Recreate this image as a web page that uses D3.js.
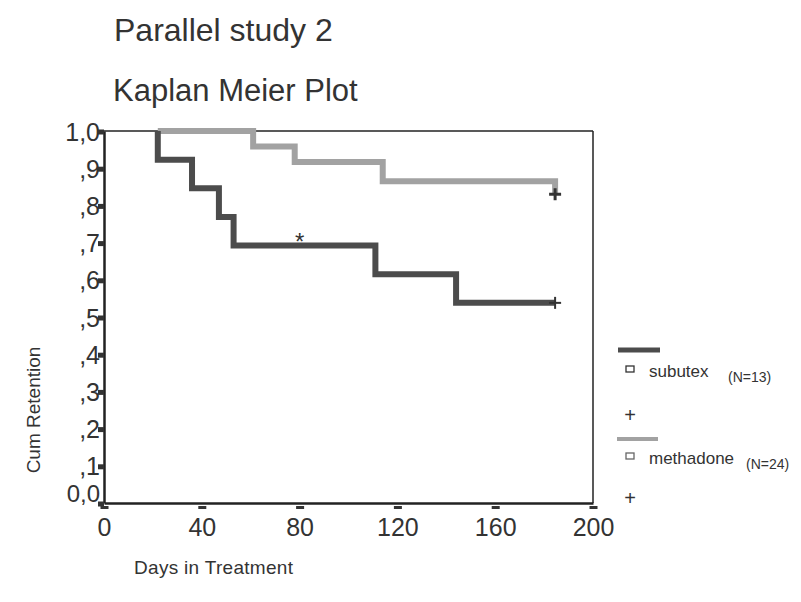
<!DOCTYPE html>
<html>
<head>
<meta charset="utf-8">
<script src="https://cdn.jsdelivr.net/npm/d3@7/dist/d3.min.js"></script>
<style>
  body { margin: 0; background: #fff; }
  text { font-family: "Liberation Sans", Arial, sans-serif; fill: #333; }
</style>
</head>
<body>
<svg id="chart" width="801" height="602"></svg>
<script>
// step curves: day of each drop and the retention after it
const startDay = 22;
const subutexDays   = [22, 36, 47, 53, 111, 144];
const subutexValues = [0.923, 0.846, 0.769, 0.692, 0.615, 0.538];
const methadoneDays   = [61, 78, 114, 184.5];
const methadoneValues = [0.958, 0.917, 0.865, 0.83];

const subutexEnd = 184.5;      // last follow-up (censored)
const methadoneEnd = 184.5;

const xTicks = [0, 40, 80, 120, 160, 200];
const yTicks = [0, 0.1, 0.2, 0.3, 0.4, 0.5, 0.6, 0.7, 0.8, 0.9, 1.0];
const yTickLabels = ["0,0", ",1", ",2", ",3", ",4", ",5", ",6", ",7", ",8", ",9", "1,0"];

const svg = d3.select("#chart");

const x = d3.scaleLinear().domain([0, 200]).range([104, 593]);
const y = d3.scaleLinear().domain([0, 1]).range([503, 131]);

// titles
svg.append("text").attr("x", 114).attr("y", 41)
  .style("font-size", "32px").text("Parallel study 2");
svg.append("text").attr("x", 113).attr("y", 101)
  .style("font-size", "31px").text("Kaplan Meier Plot");

// frame (top and right thin)
svg.append("line").attr("x1", x(0)).attr("x2", x(200)).attr("y1", y(1)).attr("y2", y(1))
  .attr("stroke", "#222").attr("stroke-width", 1.5);
svg.append("line").attr("x1", x(200)).attr("x2", x(200)).attr("y1", y(1)).attr("y2", y(0))
  .attr("stroke", "#222").attr("stroke-width", 1.5);

// axes
const xAxis = d3.axisBottom(x).tickValues(xTicks).tickSize(0).tickPadding(10);
const yAxis = d3.axisLeft(y).tickValues(yTicks).tickSize(0).tickPadding(4)
  .tickFormat((d, i) => yTickLabels[i]);

const gx = svg.append("g").attr("transform", `translate(0,${y(0)})`).call(xAxis);
const gy = svg.append("g").attr("transform", `translate(${x(0)},0)`).call(yAxis);

[gx, gy].forEach(g => {
  g.select(".domain").attr("stroke", "#222").attr("stroke-width", 2.5);
  g.selectAll(".tick text").style("font-size", "25px").attr("fill", "#333");
});
gx.selectAll(".tick text").attr("dy", "0.9em");
gy.selectAll(".tick text").attr("dy", "0.36em");
gy.selectAll(".tick").filter(d => d === 0).select("text")
  .attr("dy", "-0.05em").style("font-size", "24px");

// small block tick marks
gx.selectAll(".tick").append("rect")
  .attr("x", -4).attr("y", 3).attr("width", 8).attr("height", 3).attr("fill", "#333");
gy.selectAll(".tick").append("rect")
  .attr("x", -6).attr("y", -2).attr("width", 6).attr("height", 5).attr("fill", "#333");

// step lines
function stepPoints(days, vals, end) {
  const pts = [[startDay, 1.0]].concat(days.map((d, i) => [d, vals[i]]));
  if (pts[pts.length - 1][0] < end) pts.push([end, vals[vals.length - 1]]);
  return pts;
}
const line = d3.line().x(d => x(d[0])).y(d => y(d[1])).curve(d3.curveStepAfter);

svg.append("path").datum(stepPoints(methadoneDays, methadoneValues, methadoneEnd))
  .attr("d", line).attr("fill", "none").attr("stroke", "#a2a2a2").attr("stroke-width", 6);
svg.append("path").datum(stepPoints(subutexDays, subutexValues, subutexEnd))
  .attr("d", line).attr("fill", "none").attr("stroke", "#4c4c4c").attr("stroke-width", 6);

// censor marks
function plus(cx, cy, s, w) {
  svg.append("line").attr("x1", cx - s).attr("x2", cx + s).attr("y1", cy).attr("y2", cy)
    .attr("stroke", "#333").attr("stroke-width", w);
  svg.append("line").attr("x1", cx).attr("x2", cx).attr("y1", cy - s).attr("y2", cy + s)
    .attr("stroke", "#333").attr("stroke-width", w);
}
plus(x(subutexEnd), y(subutexValues[subutexValues.length - 1]), 6, 2);
plus(x(methadoneEnd), y(methadoneValues[methadoneValues.length - 1]), 6, 3);

// significance asterisk
svg.append("text").attr("x", x(80)).attr("y", y(0.692) + 4).attr("text-anchor", "middle")
  .style("font-size", "24px").attr("fill", "#222").text("*");

// axis titles
svg.append("text").attr("transform", "translate(40,410) rotate(-90)").attr("text-anchor", "middle")
  .style("font-size", "19px").text("Cum Retention");
svg.append("text").attr("x", 134).attr("y", 574)
  .style("font-size", "19px").style("letter-spacing", "0.3px").text("Days in Treatment");

// legend
const legend = svg.append("g");
legend.append("line").attr("x1", 618).attr("x2", 660).attr("y1", 350).attr("y2", 350)
  .attr("stroke", "#4c4c4c").attr("stroke-width", 5);
legend.append("rect").attr("x", 626).attr("y", 366).attr("width", 8).attr("height", 6)
  .attr("fill", "none").attr("stroke", "#333").attr("stroke-width", 1.3);
legend.append("text").attr("x", 649).attr("y", 377).style("font-size", "17px").text("subutex");
legend.append("text").attr("x", 728).attr("y", 382).style("font-size", "14px").text("(N=13)");
legend.append("text").attr("x", 630).attr("y", 422).attr("text-anchor", "middle")
  .style("font-size", "20px").text("+");

legend.append("line").attr("x1", 617).attr("x2", 658).attr("y1", 439).attr("y2", 439)
  .attr("stroke", "#a2a2a2").attr("stroke-width", 4);
legend.append("rect").attr("x", 626).attr("y", 453).attr("width", 8).attr("height", 6)
  .attr("fill", "none").attr("stroke", "#666").attr("stroke-width", 1.3);
legend.append("text").attr("x", 649).attr("y", 464).style("font-size", "17px").text("methadone");
legend.append("text").attr("x", 746).attr("y", 469).style("font-size", "14px").text("(N=24)");
legend.append("text").attr("x", 630).attr("y", 505).attr("text-anchor", "middle")
  .style("font-size", "20px").text("+");
</script>
</body>
</html>
